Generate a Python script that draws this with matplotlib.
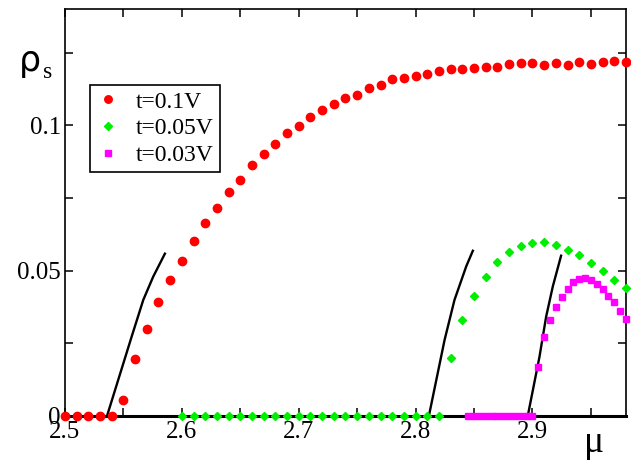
import numpy as np
import matplotlib
matplotlib.use("Agg")
import matplotlib.pyplot as plt

# Data
x_red = [2.50, 2.51, 2.52, 2.53, 2.54, 2.55, 2.56, 2.57, 2.58, 2.59,
         2.60, 2.61, 2.62, 2.63, 2.64, 2.65, 2.66, 2.67, 2.68, 2.69,
         2.70, 2.71, 2.72, 2.73, 2.74, 2.75, 2.76, 2.77, 2.78, 2.79,
         2.80, 2.81, 2.82, 2.83, 2.84, 2.85, 2.86, 2.87, 2.88, 2.89,
         2.90, 2.91, 2.92, 2.93, 2.94, 2.95, 2.96, 2.97, 2.98]
y_red = [0, 0, 0, 0, 0, 0.0054, 0.0194, 0.0300, 0.0390, 0.0468,
         0.0534, 0.0601, 0.0663, 0.0714, 0.0769, 0.0813, 0.0862, 0.0901, 0.0936, 0.0974,
         0.0997, 0.1029, 0.1052, 0.1074, 0.1093, 0.1105, 0.1129, 0.1138, 0.1158, 0.1162,
         0.1170, 0.1177, 0.1185, 0.1192, 0.1193, 0.1197, 0.1200, 0.1200, 0.1210, 0.1213,
         0.1214, 0.1208, 0.1213, 0.1206, 0.1219, 0.1210, 0.1219, 0.1222, 0.1219]

x_green = [2.60, 2.61, 2.62, 2.63, 2.64, 2.65, 2.66, 2.67, 2.68, 2.69,
           2.70, 2.71, 2.72, 2.73, 2.74, 2.75, 2.76, 2.77, 2.78, 2.79,
           2.80, 2.81, 2.82, 2.83, 2.84, 2.85, 2.86, 2.87, 2.88, 2.89,
           2.90, 2.91, 2.92, 2.93, 2.94, 2.95, 2.96, 2.97, 2.98]
y_green = [0, 0, 0, 0, 0, 0, 0, 0, 0, 0,
           0, 0, 0, 0, 0, 0, 0, 0, 0, 0,
           0, 0, 0, 0.0198, 0.0328, 0.0414, 0.0479, 0.0528, 0.0563, 0.0586,
           0.0594, 0.0597, 0.0589, 0.0571, 0.0554, 0.0526, 0.0497, 0.0468, 0.0439]

x_mag = [2.845, 2.850, 2.855, 2.860, 2.865, 2.870, 2.875, 2.880, 2.885, 2.890,
         2.895, 2.900, 2.905, 2.910, 2.915, 2.920, 2.925, 2.930, 2.935, 2.940,
         2.945, 2.950, 2.955, 2.960, 2.965, 2.970, 2.975, 2.980]
y_mag = [0, 0, 0, 0, 0, 0, 0, 0, 0, 0,
         0, 0, 0.0169, 0.0272, 0.0330, 0.0373, 0.0410, 0.0436, 0.0462, 0.0470,
         0.0474, 0.0468, 0.0454, 0.0436, 0.0414, 0.0390, 0.0362, 0.0333]

# black fit lines near the onsets
x_fit1 = [2.536, 2.557, 2.567, 2.5755, 2.5855]
y_fit1 = [0, 0.0272, 0.0399, 0.0479, 0.0558]
x_fit2 = [2.8114, 2.8248, 2.8333, 2.8433, 2.849]
y_fit2 = [0, 0.0261, 0.0399, 0.0514, 0.0568]
x_fit3 = [2.896, 2.906, 2.9117, 2.9174, 2.9245]
y_fit3 = [0, 0.0203, 0.0341, 0.0445, 0.0551]

labels = ["t=0.1V", "t=0.05V", "t=0.03V"]

serif = "Liberation Serif"

fig = plt.figure(figsize=(6.31, 4.62), dpi=100)
ax = fig.add_axes([0.103, 0.100, 0.889, 0.8805])

ax.plot(x_fit1, y_fit1, color="black", lw=1.7)
ax.plot(x_fit2, y_fit2, color="black", lw=1.7)
ax.plot(x_fit3, y_fit3, color="black", lw=1.7)

ax.plot(x_red, y_red, "o", color="red", ms=6, mec="red", label=labels[0], clip_on=False, zorder=3)
ax.plot(x_green, y_green, "D", color="#00ee00", ms=4.2, mec="#00ee00", label=labels[1], clip_on=False, zorder=3)
ax.plot(x_mag, y_mag, "s", color="magenta", ms=5, mec="magenta", label=labels[2], clip_on=False, zorder=3)

ax.set_xlim(2.5, 2.98)
ax.set_ylim(0, 0.14)

ax.set_xticks([2.5, 2.6, 2.7, 2.8, 2.9])
ax.set_xticklabels(["2.5", "2.6", "2.7", "2.8", "2.9"])
ax.set_xticks([2.55, 2.65, 2.75, 2.85, 2.95], minor=True)
ax.set_yticks([0, 0.05, 0.1])
ax.set_yticklabels(["0", "0.05", "0.1"])
ax.set_yticks([0.025, 0.075, 0.125], minor=True)

ax.tick_params(which="both", direction="in", top=True, right=True, length=6, width=1.1)
ax.tick_params(axis="x", labelsize=18, pad=4)
ax.tick_params(axis="y", labelsize=18, pad=3)
for lab in ax.get_xticklabels() + ax.get_yticklabels():
    lab.set_fontfamily(serif)

for s in ["left", "right", "top"]:
    ax.spines[s].set_linewidth(1.2)
ax.spines["bottom"].set_linewidth(2.2)

leg = ax.legend(loc="upper left", bbox_to_anchor=(0.0446, 0.813), borderaxespad=0,
                frameon=True, fancybox=False, edgecolor="black", framealpha=1,
                prop={"family": serif, "size": 17}, handlelength=1.0, handletextpad=0.7,
                labelspacing=0.22, borderpad=0.25, markerscale=0.9)
leg.get_frame().set_linewidth(1.2)

fig.text(0.030, 0.868, "ρ", fontsize=25, family="DejaVu Sans", va="center")
fig.text(0.068, 0.843, "s", fontsize=17, family=serif, va="center")
fig.text(0.925, 0.022, "μ", fontsize=27, family=serif, va="baseline")

fig.savefig("out.png", dpi=100)
